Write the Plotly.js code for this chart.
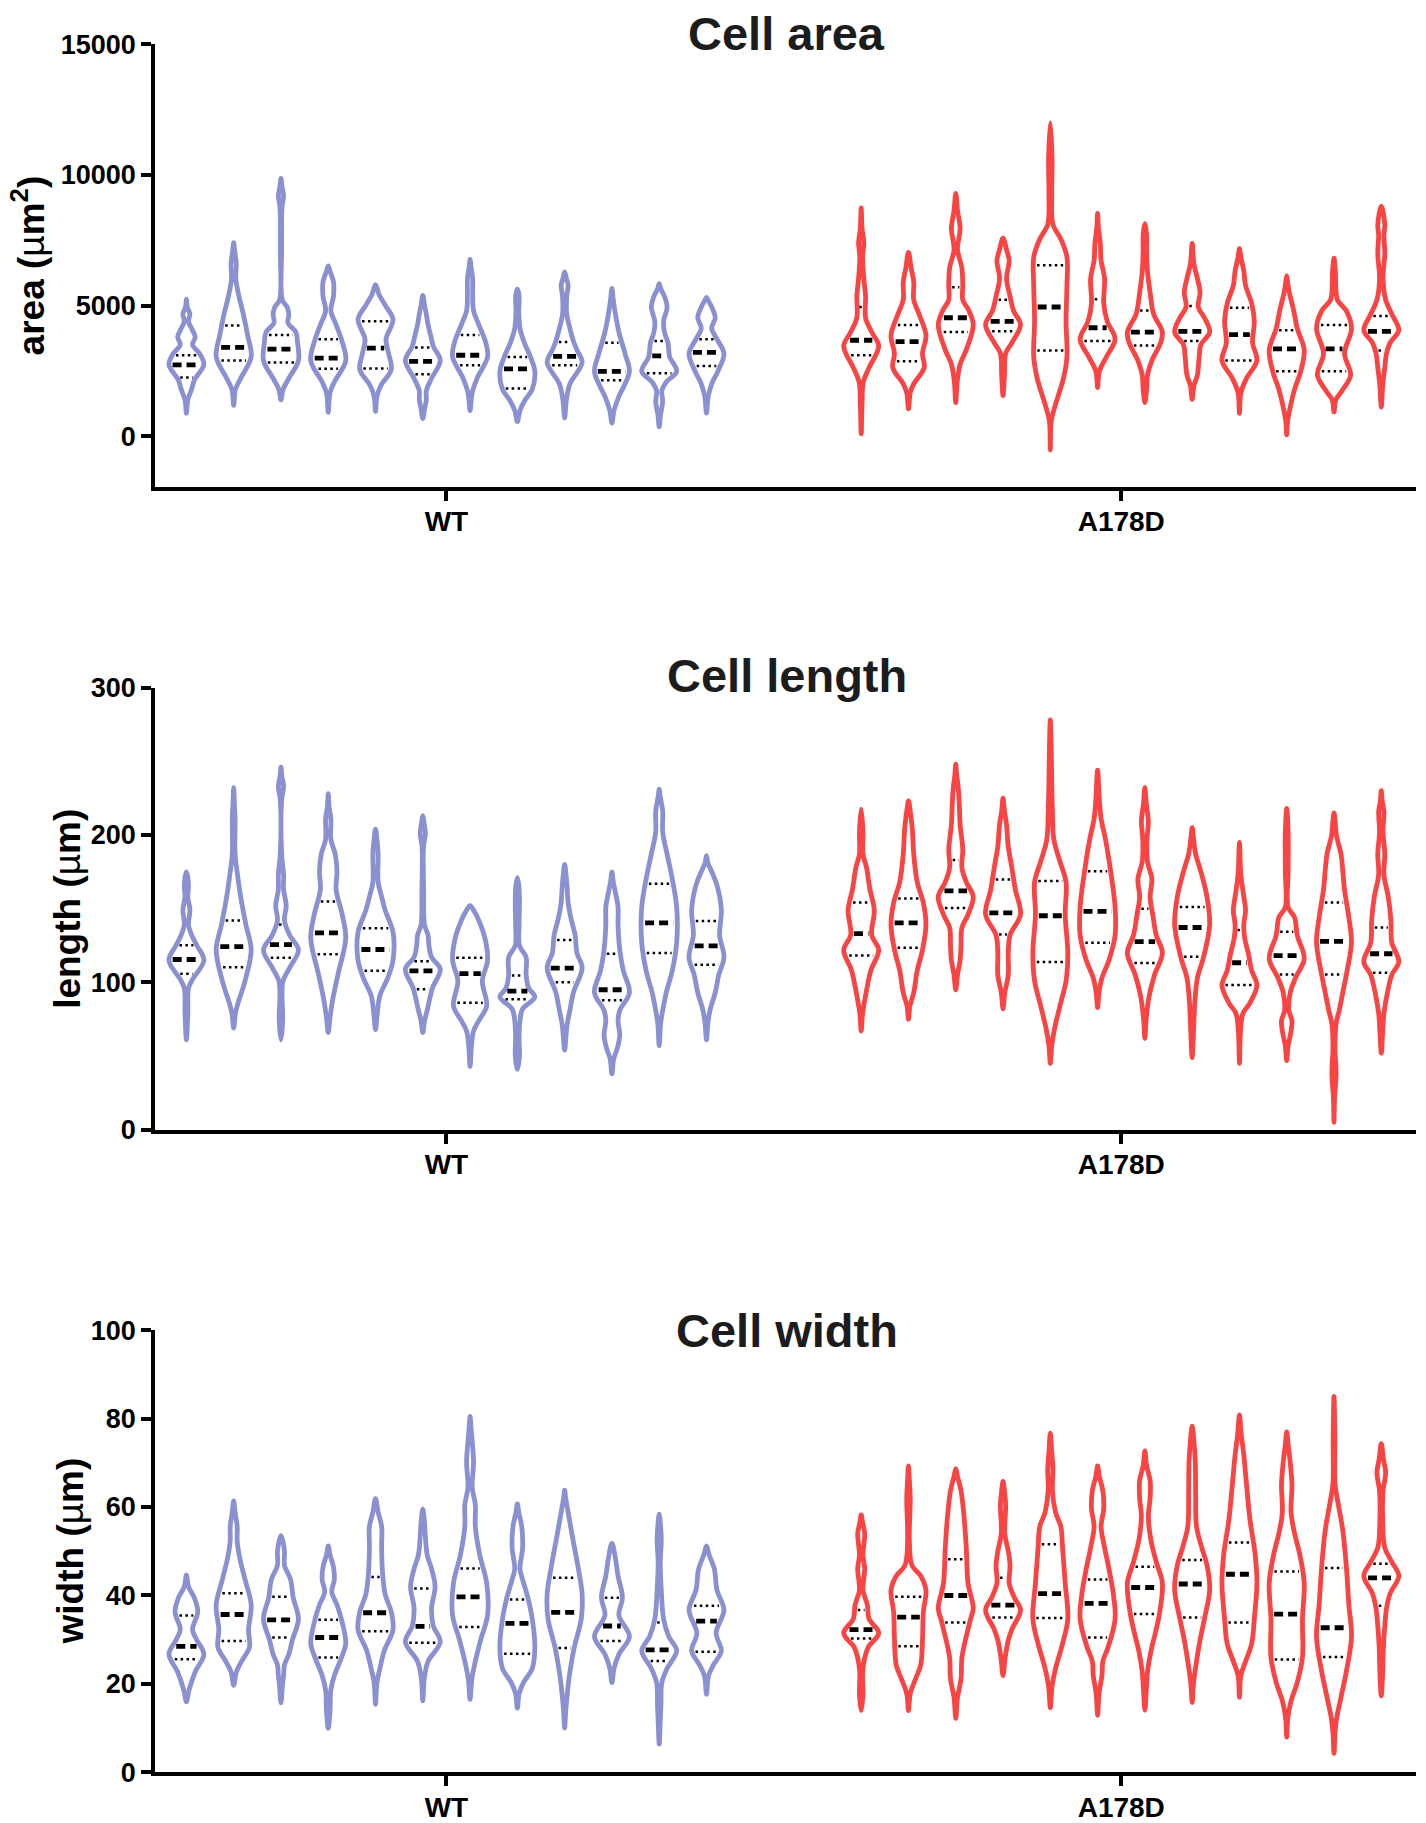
<!DOCTYPE html>
<html>
<head>
<meta charset="utf-8">
<script src="https://cdn.plot.ly/plotly-3.0.1.min.js"></script>
<style>html,body{margin:0;padding:0;background:#fff;}#chart{width:1426px;height:1823px;}</style>
</head>
<body>
<div id="chart"></div>
<script>
// ---------------- DATA ----------------
const groups = ["WT", "A178D"];
const panelTitles = ["Cell area", "Cell length", "Cell width"];
const yTitles = ["area (<span style='font-weight:normal'>\u00b5</span>m<sup>2</sup>)", "length (<span style='font-weight:normal'>\u00b5</span>m)", "width (<span style='font-weight:normal'>\u00b5</span>m)"];
const areaTicks = [0, 5000, 10000, 15000];
const lengthTicks = [0, 100, 200, 300];
const widthTicks = [0, 20, 40, 60, 80, 100];

// Violin outlines: [value, relative half-width] knots from min to max
const areaWT_shape = [
  [[890,0],[1400,0.08],[1800,0.3],[2150,0.45],[2750,1],[3170,0.75],[3500,0.35],[3800,0.5],[4060,0.35],[4400,0.12],[4680,0.2],[4950,0.05],[5250,0]],
  [[1190,0],[1800,0.1],[2220,0.4],[3040,1],[3860,0.8],[4680,0.55],[5360,0.3],[6040,0.12],[6590,0.15],[7140,0.05],[7410,0]],
  [[1400,0],[1800,0.12],[2220,0.45],[2900,1],[3580,0.95],[3990,0.85],[4340,0.4],[4680,0.45],[4950,0.35],[5220,0.08],[7140,0.04],[8780,0.06],[9190,0.15],[9600,0.05],[9870,0]],
  [[920,0],[1670,0.1],[2080,0.35],[2900,1],[3720,0.75],[4270,0.45],[4810,0.15],[5360,0.3],[5910,0.3],[6320,0.1],[6520,0]],
  [[960,0],[1530,0.08],[1940,0.3],[2560,0.9],[3170,0.75],[3720,0.6],[4470,1],[5020,0.55],[5430,0.2],[5810,0]],
  [[680,0],[1050,0.1],[1400,0.2],[1740,0.2],[2220,0.5],[2900,1],[3450,0.6],[3860,0.45],[4270,0.3],[4680,0.2],[5020,0.1],[5390,0]],
  [[990,0],[1670,0.12],[2220,0.4],[3040,1],[3580,0.9],[4270,0.5],[4810,0.2],[5500,0.15],[6040,0.15],[6450,0.06],[6770,0]],
  [[570,0],[990,0.15],[1400,0.45],[1800,0.85],[2490,1],[3040,0.75],[3580,0.4],[4130,0.15],[4810,0.08],[5360,0.1],[5630,0]],
  [[710,0],[1400,0.1],[2010,0.3],[2830,1],[3310,0.7],[3650,0.5],[4130,0.3],[4680,0.12],[5360,0.12],[5770,0.2],[6040,0.1],[6290,0]],
  [[510,0],[990,0.12],[1530,0.4],[1940,0.7],[2490,1],[3170,0.75],[3990,0.4],[4680,0.2],[5220,0.08],[5660,0]],
  [[370,0],[850,0.08],[1330,0.2],[1740,0.15],[2080,0.4],[2490,1],[3040,0.6],[3580,0.5],[3990,0.3],[4400,0.25],[4950,0.45],[5360,0.3],[5630,0.1],[5840,0]],
  [[890,0],[1530,0.1],[2010,0.3],[2490,0.65],[3170,1],[3720,0.6],[4130,0.3],[4540,0.5],[4950,0.3],[5220,0.08],[5320,0]]
];
const areaWT_med = [2734,3405,3336,2995,3377,2872,3104,2584,3063,2489,3077,3213];
const areaWT_q1  = [2256,2899,2830,2584,2598,2379,2721,1832,2721,2147,2420,2694];
const areaWT_q3  = [3104,4239,3883,3719,4403,3405,3883,3036,3610,3583,3651,3719];

const areaMut_shape = [
  [[100,0],[1260,0.05],[2080,0.12],[2630,0.45],[3450,1],[3990,0.6],[4540,0.25],[5360,0.25],[6040,0.15],[6860,0.08],[7410,0.15],[7960,0.05],[8740,0]],
  [[1050,0],[1670,0.1],[2010,0.3],[2630,0.9],[3170,0.8],[3860,1],[4680,0.6],[5220,0.3],[5910,0.3],[6450,0.15],[7040,0]],
  [[1290,0],[2080,0.08],[2760,0.25],[3310,0.6],[4270,1],[4810,0.75],[5220,0.4],[5770,0.4],[6450,0.35],[7140,0.1],[7960,0.25],[8640,0.1],[9300,0]],
  [[1560,0],[2350,0.08],[3170,0.15],[3580,0.5],[4270,1],[4810,0.6],[5360,0.4],[6040,0.2],[6730,0.35],[7140,0.2],[7580,0]],
  [[-520,0],[570,0.05],[1120,0.25],[2220,0.75],[3040,0.95],[4400,0.9],[5770,0.95],[6860,0.95],[7550,0.6],[8100,0.15],[9190,0.08],[10560,0.1],[11990,0]],
  [[1870,0],[2490,0.1],[3040,0.5],[3720,1],[4400,0.55],[5090,0.35],[6040,0.4],[6730,0.2],[7410,0.15],[7960,0.05],[8530,0]],
  [[1290,0],[1800,0.1],[2350,0.15],[2900,0.4],[3580,0.9],[3990,1],[4680,0.5],[5500,0.3],[6320,0.15],[7140,0.1],[7690,0.1],[8150,0]],
  [[1420,0],[1940,0.1],[2350,0.3],[3040,0.4],[3510,0.5],[3990,1],[4540,0.7],[4950,0.35],[5500,0.45],[6040,0.3],[6590,0.1],[7380,0]],
  [[880,0],[1670,0.08],[2220,0.4],[2900,1],[3580,0.75],[4400,0.85],[5090,0.7],[5770,0.35],[6320,0.25],[6860,0.08],[7180,0]],
  [[60,0],[570,0.05],[1120,0.2],[1800,0.45],[2490,0.8],[3310,1],[4130,0.6],[4810,0.4],[5500,0.15],[5910,0.05],[6140,0]],
  [[940,0],[1400,0.1],[1740,0.45],[2350,0.95],[3170,0.6],[4130,1],[4810,0.7],[5220,0.2],[5770,0.1],[6320,0.08],[6820,0]],
  [[1120,0],[1940,0.08],[2630,0.2],[3170,0.3],[3580,0.5],[4060,1],[4680,0.6],[5220,0.25],[6040,0.1],[7000,0.2],[7690,0.15],[8100,0.2],[8810,0]]
];
const areaMut_med = [3678,3624,4540,4403,4950,4157,3993,4020,3897,3350,3350,4020];
const areaMut_q1  = [3104,2872,3993,4020,3282,3651,3473,3651,2899,2489,2489,3282];
const areaMut_q3  = [4950,4266,5702,5224,6550,5251,4813,4991,4923,4061,4266,4608];

const lengthWT_shape = [
  [[61,0],[79,0.08],[96,0.12],[102,0.35],[115,1],[125,0.6],[132,0.3],[139,0.12],[149,0.2],[158,0.08],[166,0.12],[175,0]],
  [[69,0],[79,0.1],[86,0.25],[101,0.65],[122,1],[139,0.7],[158,0.4],[173,0.22],[187,0.08],[211,0.08],[221,0.04],[232,0]],
  [[61,0],[76,0.1],[91,0.06],[101,0.12],[110,0.5],[122,1],[132,0.5],[142,0.2],[152,0.3],[163,0.15],[173,0.15],[187,0.04],[224,0.04],[233,0.15],[240,0.05],[246,0]],
  [[66,0],[76,0.1],[88,0.25],[105,0.55],[130,1],[146,0.8],[163,0.45],[175,0.5],[187,0.4],[197,0.15],[211,0.15],[219,0.05],[228,0]],
  [[68,0],[79,0.1],[91,0.25],[103,0.7],[115,1],[134,1],[149,0.55],[158,0.35],[168,0.15],[187,0.15],[197,0.08],[204,0]],
  [[66,0],[74,0.1],[81,0.25],[96,0.55],[109,1],[117,0.5],[125,0.35],[132,0.3],[139,0.1],[163,0.05],[192,0.04],[201,0.15],[209,0.06],[213,0]],
  [[43,0],[57,0.08],[67,0.2],[74,0.5],[84,0.95],[101,0.7],[115,1],[130,0.85],[142,0.5],[149,0.2],[152,0]],
  [[41,0],[50,0.12],[62,0.1],[74,0.15],[82,0.3],[90,1],[96,0.65],[105,0.5],[117,0.5],[125,0.12],[139,0.1],[156,0.12],[166,0.08],[171,0]],
  [[54,0],[64,0.08],[72,0.15],[81,0.3],[93,0.5],[110,1],[120,0.7],[132,0.6],[144,0.35],[154,0.2],[163,0.15],[173,0.08],[180,0]],
  [[38,0],[48,0.1],[55,0.3],[64,0.45],[74,0.35],[81,0.45],[93,1],[108,0.65],[122,0.45],[139,0.35],[151,0.35],[161,0.2],[168,0.08],[175,0]],
  [[57,0],[72,0.08],[81,0.2],[93,0.4],[108,0.75],[127,1],[151,1],[173,0.7],[187,0.45],[202,0.2],[216,0.2],[226,0.06],[231,0]],
  [[61,0],[72,0.08],[81,0.2],[93,0.5],[105,0.7],[117,1],[132,0.75],[149,0.85],[166,0.6],[175,0.3],[181,0.08],[186,0]]
];
const lengthWT_med = [115.5,124.2,125.6,133.6,122.3,107.8,105.9,94,109.7,95,140.4,124.7];
const lengthWT_q1  = [105.9,110.2,116.7,119.1,107.8,95.3,86.1,88.5,100.1,87.8,119.9,111.9];
const lengthWT_q3  = [125.2,142,139.2,154.8,136.7,114.3,116.7,104.7,128.8,119.4,166.9,141.6];

const lengthMut_shape = [
  [[67,0],[79,0.08],[91,0.25],[108,0.55],[122,1],[132,0.6],[149,0.75],[163,0.5],[178,0.3],[187,0.1],[202,0.1],[217.5,0]],
  [[75,0],[84,0.08],[93,0.3],[108,0.5],[122,0.8],[139,1],[154,0.85],[168,0.5],[187,0.3],[204,0.22],[216,0.1],[223,0]],
  [[95,0],[105,0.1],[115,0.25],[125,0.3],[137,0.35],[146,0.7],[158,1],[168,0.6],[178,0.35],[190,0.4],[207,0.25],[221,0.2],[231,0.15],[241,0.05],[248,0]],
  [[82,0],[93,0.1],[105,0.3],[120,0.3],[132,0.4],[146,1],[163,0.7],[178,0.5],[192,0.3],[207,0.2],[216,0.08],[225,0]],
  [[45,0],[57,0.08],[69,0.25],[84,0.55],[101,0.9],[120,1],[146,0.85],[168,0.9],[182,0.55],[197,0.2],[216,0.12],[236,0.08],[260,0.05],[278,0]],
  [[83,0],[93,0.08],[103,0.25],[115,0.65],[132,1],[151,1],[175,0.75],[197,0.45],[211,0.2],[224,0.1],[244,0]],
  [[62,0],[76,0.08],[91,0.25],[105,0.55],[120,1],[132,0.65],[146,0.45],[158,0.3],[170,0.4],[182,0.15],[197,0.12],[209,0.2],[221,0.08],[232,0]],
  [[49,0],[67,0.08],[86,0.15],[103,0.3],[117,0.65],[139,1],[158,0.85],[175,0.5],[187,0.2],[197,0.08],[205,0]],
  [[45,0],[67,0.06],[79,0.2],[86,0.6],[98,1],[108,0.7],[120,0.5],[130,0.3],[139,0.25],[149,0.35],[158,0.25],[173,0.08],[195,0]],
  [[47,0],[57,0.08],[67,0.25],[74,0.3],[81,0.12],[93,0.2],[103,0.5],[116,1],[132,0.6],[144,0.45],[151,0.08],[175,0.08],[202,0.08],[218,0]],
  [[5,0],[21,0.03],[38,0.12],[55,0.06],[72,0.12],[81,0.3],[93,0.5],[108,0.75],[127,1],[144,0.85],[163,0.6],[187,0.4],[199,0.15],[215,0]],
  [[52,0],[67,0.08],[79,0.15],[93,0.35],[105,0.6],[114,1],[127,0.6],[142,0.55],[158,0.4],[173,0.15],[187,0.2],[202,0.1],[216,0.15],[223,0.05],[230,0]]
];
const lengthMut_med = [133.1,140.4,162,147.1,145.2,148.1,127.6,137.2,113.3,118.2,127.8,119.4];
const lengthMut_q1  = [118.2,123.5,150.5,132.4,113.8,126.9,113.1,117.4,98.2,105.4,105.4,106.6];
const lengthMut_q3  = [154.1,156.8,183,169.8,168.8,175.3,150,151.2,135.5,134.3,154.1,137.2];

const widthWT_shape = [
  [[16,0],[18.6,0.15],[22.7,0.5],[26.7,1],[29.9,0.6],[32.3,0.35],[36.3,0.65],[39.5,0.45],[42,0.12],[44.6,0]],
  [[19.7,0],[22.7,0.15],[25.1,0.45],[28.3,0.9],[32.3,0.85],[37.9,1],[43.6,0.65],[48.4,0.35],[52.4,0.2],[55.6,0.2],[58.8,0.08],[61.4,0]],
  [[15.7,0],[19.5,0.08],[21.9,0.15],[24.3,0.2],[26.7,0.45],[29.9,0.65],[34.7,1],[39.5,0.7],[43.6,0.55],[46.8,0.2],[50,0.2],[53.5,0]],
  [[10,0],[13.8,0.1],[18.6,0.15],[21.9,0.35],[25.9,0.75],[29.1,1],[33.9,0.8],[37.9,0.5],[40.8,0.2],[43.6,0.35],[46.4,0.3],[49.2,0.1],[51.2,0]],
  [[15.4,0],[20.3,0.08],[23.5,0.25],[27.5,0.5],[32.3,1],[36.3,0.9],[40.3,0.55],[45.2,0.4],[50.8,0.35],[55.6,0.35],[58.8,0.15],[61.9,0]],
  [[16.2,0],[21.1,0.08],[25.1,0.3],[29.5,1],[33.1,0.6],[37.1,0.5],[42,0.7],[46,0.5],[49.2,0.25],[53.2,0.15],[56.4,0.1],[59.6,0]],
  [[16.5,0],[21.1,0.1],[25.1,0.3],[29.9,0.6],[35.5,1],[42.8,0.95],[49.2,0.55],[55.6,0.3],[60.5,0.3],[64.5,0.12],[70.1,0.2],[74.9,0.12],[78.1,0.05],[80.5,0]],
  [[14.5,0],[17.8,0.1],[20.3,0.35],[23.5,0.85],[28.3,1],[34.7,0.85],[39.5,0.6],[43.6,0.3],[46,0.15],[50.8,0.3],[55.6,0.25],[58.8,0.08],[60.7,0]],
  [[10,0],[13.8,0.06],[17.8,0.15],[22.7,0.3],[28.3,0.55],[34.7,0.95],[40.3,1],[46.8,0.75],[53.2,0.45],[58.8,0.2],[62,0.06],[63.8,0]],
  [[20.3,0],[23.5,0.12],[26.7,0.4],[30.7,1],[35.5,0.4],[39.5,0.6],[44.4,0.35],[48.4,0.2],[51.8,0]],
  [[6.4,0],[10.6,0.05],[15.4,0.1],[20.3,0.15],[23.5,0.45],[27.5,1],[30.7,0.55],[34.7,0.25],[41.2,0.12],[47.6,0.06],[52.4,0.12],[55.6,0.08],[58.4,0]],
  [[17.7,0],[21.9,0.12],[24.3,0.4],[27.5,0.85],[31.5,0.55],[36.7,1],[41.2,0.6],[46,0.45],[49.2,0.15],[51.2,0]]
];
const widthWT_med = [28.5,35.7,34.5,30.5,36.1,33,39.7,33.7,36.2,33.1,27.7,34.2];
const widthWT_q1  = [25.6,29.7,30.5,26,31.9,29.3,32.9,26.8,28.1,29.7,25.2,27.3];
const widthWT_q3  = [35.5,40.5,39.7,34.5,44.2,41.6,46.1,39.1,44,39.5,33.9,37.7];

const widthMut_shape = [
  [[14,0],[17.8,0.1],[22.7,0.08],[25.9,0.2],[28.3,0.4],[31.5,1],[34.7,0.45],[37.9,0.35],[41.2,0.1],[46,0.2],[49.2,0.1],[54,0.2],[56.4,0.08],[58.2,0]],
  [[14,0],[17.8,0.1],[21.1,0.4],[24.3,0.7],[29.9,0.8],[36.3,0.85],[41.2,1],[44.4,0.7],[46.8,0.2],[52.4,0.05],[62,0.1],[66.1,0.05],[69.3,0]],
  [[12.2,0],[17,0.1],[21.1,0.3],[25.9,0.35],[29.9,0.55],[34.7,0.85],[37.1,1],[42.8,0.7],[50.8,0.6],[58.8,0.45],[63.7,0.3],[66.9,0.1],[68.7,0]],
  [[21.9,0],[25.9,0.12],[29.9,0.3],[32.3,0.5],[36.7,1],[39.5,0.65],[42.8,0.35],[46.8,0.4],[50,0.3],[54,0.1],[60.5,0.15],[63.7,0.08],[65.8,0]],
  [[14.6,0],[19.5,0.1],[23.5,0.3],[29.1,0.7],[34.7,1],[42.8,0.85],[50.8,0.7],[55.6,0.6],[58.8,0.3],[63.7,0.12],[68.5,0.15],[72.5,0.08],[76.7,0]],
  [[12.9,0],[17.8,0.08],[21.9,0.25],[25.1,0.3],[28.3,0.6],[34.7,1],[40.3,0.9],[46,0.65],[50.8,0.4],[55.6,0.2],[59.6,0.35],[63.7,0.3],[66.9,0.1],[69.3,0]],
  [[14.1,0],[18.6,0.08],[22.7,0.15],[27.5,0.35],[31.5,0.6],[36.3,0.85],[42.8,1],[47.6,0.65],[52.4,0.35],[58,0.2],[62,0.3],[66,0.3],[69.3,0.1],[72.7,0]],
  [[15.8,0],[20.3,0.08],[25.1,0.25],[29.9,0.45],[34.7,0.7],[41.2,1],[46.8,0.85],[50.8,0.55],[55.6,0.25],[62.9,0.2],[70.1,0.18],[74.9,0.1],[78.3,0]],
  [[17,0],[21.9,0.08],[25.1,0.35],[29.1,0.7],[34.7,0.85],[42.8,1],[49.2,0.9],[57.2,0.6],[65.3,0.4],[71.7,0.25],[76.5,0.1],[80.8,0]],
  [[8,0],[12.2,0.06],[16.2,0.25],[20.3,0.6],[25.9,0.9],[34.7,0.9],[42.8,1],[49.2,0.75],[54,0.45],[58.8,0.25],[65,0.3],[70.1,0.2],[74.1,0.08],[77,0]],
  [[4.3,0],[9,0.06],[12.2,0.15],[17,0.4],[22.7,0.7],[30.7,1],[37.9,0.85],[46.8,0.7],[54.8,0.5],[60.5,0.25],[65.3,0.06],[74.9,0.05],[85,0]],
  [[17.3,0],[22.7,0.08],[28.3,0.12],[33.1,0.2],[37.1,0.3],[40.4,0.5],[44.4,1],[47.6,0.6],[50.8,0.2],[57.2,0.08],[63.7,0.1],[67.7,0.25],[70.9,0.12],[74.3,0]]
];
const widthMut_med = [32.3,35.1,40,37.8,40.4,38.2,41.8,42.6,44.8,35.8,32.7,44];
const widthMut_q1  = [30.3,28.5,33.9,35,34.9,30.5,35.8,35,33.9,25.5,26.1,37.7];
const widthMut_q3  = [36.7,39.7,48.2,44,51.6,43.6,46.5,48,52,45.4,46.2,47.2];

// ---------------- LAYOUT / STYLE ----------------
const W = 1426, H = 1823;
const SLOT = 47.28, X0PX = 186.4;           // px per violin slot, px of first violin
const MUT_BASE = (861.2 - X0PX) / SLOT;     // slot offset of first A178D violin
const HW = 0.37;                            // max half width (slot units)
const INNER = 3.4 / SLOT;                   // inset of median/quartile lines
const COLORS = ["#8a91d0", "#f94444"];
const FONT = "Liberation Sans, Arial, Helvetica, sans-serif";
const NARROW = "Liberation Sans Narrow, Arial Narrow, Liberation Sans, Arial, sans-serif";

const panels = [
  {shapes:[areaWT_shape, areaMut_shape], med:[areaWT_med, areaMut_med], q1:[areaWT_q1, areaMut_q1], q3:[areaWT_q3, areaMut_q3],
   top:44.3, bot:486.7, range:[-1924, 15000], ticks:areaTicks, titleBase:50, ytitleBase:41.7},
  {shapes:[lengthWT_shape, lengthMut_shape], med:[lengthWT_med, lengthMut_med], q1:[lengthWT_q1, lengthMut_q1], q3:[lengthWT_q3, lengthMut_q3],
   top:687.5, bot:1129.8, range:[0, 300], ticks:lengthTicks, titleBase:692, ytitleBase:80},
  {shapes:[widthWT_shape, widthMut_shape], med:[widthWT_med, widthMut_med], q1:[widthWT_q1, widthMut_q1], q3:[widthWT_q3, widthMut_q3],
   top:1330.1, bot:1772.4, range:[0, 100], ticks:widthTicks, titleBase:1347, ytitleBase:83}
];

function widthAt(shape, v) {
  for (let k = 0; k < shape.length - 1; k++) {
    const [v0, w0] = shape[k], [v1, w1] = shape[k + 1];
    if (v >= v0 && v <= v1) return w0 + (w1 - w0) * (v - v0) / (v1 - v0);
  }
  return 0;
}

const traces = [];
const layout = {
  width: W, height: H, margin: {l:0, r:0, t:0, b:0},
  paper_bgcolor: "#fff", plot_bgcolor: "#fff", showlegend: false,
  font: {family: FONT, color: "#000"},
  annotations: []
};

panels.forEach((p, pi) => {
  const sfx = pi === 0 ? "" : String(pi + 1);
  const xa = "x" + sfx, ya = "y" + sfx;
  const lineSegs = {med: {x: [], y: []}, q: {x: [], y: []}};
  [0, 1].forEach(g => {
    const base = g === 0 ? 0 : MUT_BASE;
    p.shapes[g].forEach((s, i) => {
      const pos = base + i;
      const xs = [], ys = [];
      s.forEach(([v, w]) => { xs.push(pos + w * HW); ys.push(v); });
      for (let k = s.length - 2; k >= 0; k--) { xs.push(pos - s[k][1] * HW); ys.push(s[k][0]); }
      traces.push({type: "scatter", mode: "lines", x: xs, y: ys, xaxis: xa, yaxis: ya,
        line: {color: COLORS[g], width: 4.8, shape: "spline", smoothing: 1}, hoverinfo: "skip"});
      const seg = (v, target) => {
        const e = Math.max(widthAt(s, v) * HW - INNER, 0.04);
        target.x.push(pos - e, pos + e, null); target.y.push(v, v, null);
      };
      seg(p.med[g][i], lineSegs.med);
      seg(p.q1[g][i], lineSegs.q);
      seg(p.q3[g][i], lineSegs.q);
    });
  });
  traces.push({type: "scatter", mode: "lines", x: lineSegs.q.x, y: lineSegs.q.y, xaxis: xa, yaxis: ya,
    line: {color: "#000", width: 2.5, dash: "2.5px,3.4px"}, hoverinfo: "skip", connectgaps: false});
  traces.push({type: "scatter", mode: "lines", x: lineSegs.med.x, y: lineSegs.med.y, xaxis: xa, yaxis: ya,
    line: {color: "#000", width: 4.8, dash: "9px,5px"}, hoverinfo: "skip", connectgaps: false});

  const yDom = [1 - p.bot / H, 1 - p.top / H];
  layout["xaxis" + sfx] = {
    domain: [155.3 / W, 1416 / W], range: [(155.3 - X0PX) / SLOT, (1416 - X0PX) / SLOT], anchor: ya,
    showline: true, linewidth: 4, linecolor: "#000", ticks: "outside", ticklen: 10, tickwidth: 4, tickcolor: "#000",
    tickmode: "array", tickvals: [5.5, MUT_BASE + 5.5], ticktext: groups, ticklabelstandoff: -3,
    tickfont: {family: FONT, size: 28, color: "#000", weight: 700},
    showgrid: false, zeroline: false, fixedrange: true
  };
  layout["yaxis" + sfx] = {
    domain: yDom, range: p.range, anchor: xa,
    showline: true, linewidth: 4, linecolor: "#000", ticks: "outside", ticklen: 10, tickwidth: 4, tickcolor: "#000",
    tickmode: "array", tickvals: p.ticks, ticktext: p.ticks.map(String),
    tickfont: {family: FONT, size: 27, color: "#000", weight: 700},
    showgrid: false, zeroline: false, fixedrange: true
  };
  // panel title
  layout.annotations.push({text: panelTitles[pi], xref: "paper", yref: "paper",
    x: 786.5 / W, y: 1 - (p.titleBase - 16.3) / H, xanchor: "center", yanchor: "middle", showarrow: false,
    font: {family: FONT, size: 47, color: "#1c1c1c", weight: 700}});
  // y-axis title (rotated)
  layout.annotations.push({text: yTitles[pi], xref: "paper", yref: "paper", textangle: -90,
    x: (p.ytitleBase - 12.8) / W, y: (yDom[0] + yDom[1]) / 2, xanchor: "center", yanchor: "middle", showarrow: false,
    font: {family: NARROW, size: 37, color: "#000", weight: 700}});
});

Plotly.newPlot("chart", traces, layout, {staticPlot: true, displayModeBar: false});
</script>
</body>
</html>
